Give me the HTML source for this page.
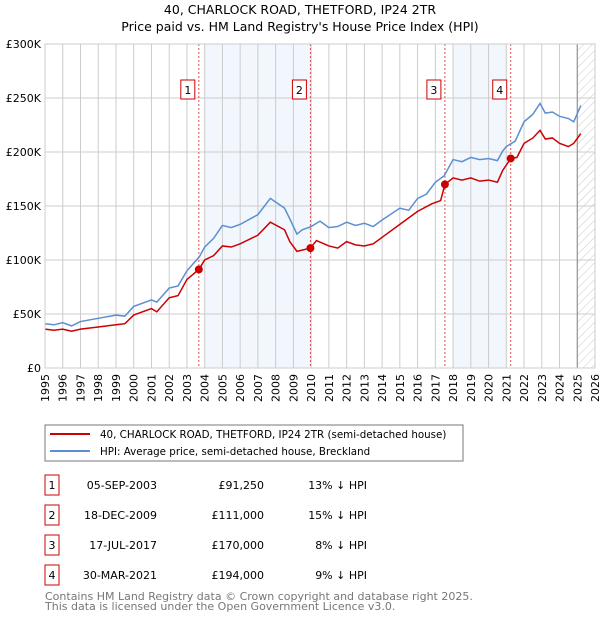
<!DOCTYPE html>
<html><head><meta charset="utf-8"><style>
body{margin:0;background:#fff;font-family:"DejaVu Sans","Liberation Sans",sans-serif;}
svg text{font-family:"DejaVu Sans","Liberation Sans",sans-serif;}
</style></head><body>
<svg id="c" width="600" height="620" viewBox="0 0 600 620" xmlns="http://www.w3.org/2000/svg">
<defs><pattern id="hatch" width="6" height="6" patternUnits="userSpaceOnUse" patternTransform="rotate(45)"><line x1="0" y1="0" x2="0" y2="6" stroke="#bbb" stroke-width="0.8"/></pattern></defs>
<text x="300" y="14" text-anchor="middle" font-size="12.5" fill="#000">40, CHARLOCK ROAD, THETFORD, IP24 2TR</text>
<text x="300" y="31" text-anchor="middle" font-size="12.5" fill="#000">Price paid vs. HM Land Registry's House Price Index (HPI)</text>
<g id="plot"></g>
<rect x="45" y="425" width="418" height="36" fill="#fff" stroke="#777"/>
<line x1="50" y1="434" x2="90" y2="434" stroke="#cc0000" stroke-width="2"/>
<text x="100" y="438" font-size="10.3">40, CHARLOCK ROAD, THETFORD, IP24 2TR (semi-detached house)</text>
<line x1="50" y1="451" x2="90" y2="451" stroke="#5b8fd0" stroke-width="2"/>
<text x="100" y="455" font-size="10.3">HPI: Average price, semi-detached house, Breckland</text>
<g id="table" font-size="11"></g>
<text x="45" y="600" font-size="11" fill="#777">Contains HM Land Registry data © Crown copyright and database right 2025.</text>
<text x="45" y="610" font-size="11" fill="#777">This data is licensed under the Open Government Licence v3.0.</text>
</svg>
<script>
const years=[1995,1996,1997,1998,1999,2000,2001,2002,2003,2004,2005,2006,2007,2008,2009,2010,2011,2012,2013,2014,2015,2016,2017,2018,2019,2020,2021,2022,2023,2024,2025,2026];
const yTicks=[0,50,100,150,200,250,300];
const yTickLabels=["£0","£50K","£100K","£150K","£200K","£250K","£300K"];
const hpiT=[1995,1995.5,1996,1996.5,1997,1998,1999,1999.5,2000,2001,2001.3,2002,2002.5,2003,2003.7,2004,2004.5,2005,2005.5,2006,2007,2007.7,2008.5,2008.8,2009.2,2009.5,2010,2010.5,2011,2011.5,2012,2012.5,2013,2013.5,2014,2015,2015.5,2016,2016.5,2017,2017.5,2018,2018.5,2019,2019.5,2020,2020.5,2020.8,2021,2021.5,2022,2022.5,2022.9,2023.2,2023.6,2024,2024.5,2024.8,2025.2];
const hpiV=[41,40,42,39,43,46,49,48,57,63,61,74,76,90,103,112,120,132,130,133,142,157,148,138,124,128,131,136,130,131,135,132,134,131,137,148,146,157,161,172,178,193,191,195,193,194,192,201,205,210,228,235,245,236,237,233,231,228,243];
const paidT=[1995,1995.5,1996,1996.5,1997,1998,1999,1999.5,2000,2001,2001.3,2002,2002.5,2003,2003.67,2004,2004.5,2005,2005.5,2006,2007,2007.7,2008.5,2008.8,2009.2,2009.96,2010.3,2011,2011.5,2012,2012.5,2013,2013.5,2014,2015,2016,2016.8,2017.3,2017.54,2018,2018.5,2019,2019.5,2020,2020.5,2020.8,2021.25,2021.6,2022,2022.5,2022.9,2023.2,2023.6,2024,2024.5,2024.8,2025.2];
const paidV=[36,35,36,34,36,38,40,41,49,55,52,65,67,82,91.25,100,104,113,112,115,123,135,128,117,108,111,118,113,111,117,114,113,115,121,133,145,152,155,170,176,174,176,173,174,172,183,194,195,208,213,220,212,213,208,205,208,217];
const saleT=[2003.67,2009.96,2017.54,2021.25];
const saleV=[91.25,111,170,194];
const saleLabels=["1","2","3","4"];
const saleDates=["05-SEP-2003","18-DEC-2009","17-JUL-2017","30-MAR-2021"];
const salePrices=["£91,250","£111,000","£170,000","£194,000"];
const saleDiffs=["13% ↓ HPI","15% ↓ HPI","8% ↓ HPI","9% ↓ HPI"];
const shadeRanges=[[2004,2010],[2018,2021]];

const NS="http://www.w3.org/2000/svg";
const X0=45,X1=595,Y0=368,Y1=44;
const xs=t=>X0+(t-1995)/(2026-1995)*(X1-X0);
const ys=v=>Y0-v/300*(Y0-Y1);
function mk(tag,attrs,parent,txt){const e=document.createElementNS(NS,tag);for(const k in attrs)e.setAttribute(k,attrs[k]);if(txt!==undefined)e.textContent=txt;parent.appendChild(e);return e;}
const g=document.getElementById('plot');
shadeRanges.forEach(r=>{const e=mk('rect',{x:xs(r[0]),y:Y1,width:xs(r[1])-xs(r[0]),height:Y0-Y1,fill:'#eef3fc',opacity:0.75},g);

});
const h=mk('rect',{x:xs(2025),y:Y1,width:X1-xs(2025),height:Y0-Y1,fill:'url(#hatch)'},g);


years.forEach(y=>{mk('line',{x1:xs(y),x2:xs(y),y1:Y1,y2:Y0,stroke:'#ccc','stroke-width':1},g);
const t=mk('text',{x:0,y:0,'font-size':11,'text-anchor':'end',transform:`translate(${xs(y)+4},${Y0+6}) rotate(-90)`},g,String(y));

});
yTicks.forEach((v,i)=>{mk('line',{x1:X0,x2:X1,y1:ys(v),y2:ys(v),stroke:'#ccc','stroke-width':1},g);
const t=mk('text',{x:X0-4,y:ys(v)+4,'font-size':11,'text-anchor':'end'},g,yTickLabels[i]);

});
mk('line',{x1:xs(2025),x2:xs(2025),y1:Y1,y2:Y0,stroke:'#888','stroke-width':1},g);
saleT.forEach(t=>mk('line',{x1:xs(t),x2:xs(t),y1:Y1,y2:Y0,stroke:'#e05050','stroke-width':1,'stroke-dasharray':'2,2'},g));
const hp=mk('polyline',{points:hpiT.map((t,i)=>xs(t)+','+ys(hpiV[i])).join(' '),fill:'none',stroke:'#5b8fd0','stroke-width':1.5},g);


const pp=mk('polyline',{points:paidT.map((t,i)=>xs(t)+','+ys(paidV[i])).join(' '),fill:'none',stroke:'#cc0000','stroke-width':1.5},g);


saleT.forEach((t,i)=>{const c=mk('circle',{cx:xs(t),cy:ys(saleV[i]),r:4,fill:'#cc0000'},g);


const r=mk('rect',{x:xs(t)-18,y:80,width:14,height:19,fill:'#fff',stroke:'#cc0000'},g);


mk('text',{x:xs(t)-11,y:94,'font-size':11,'text-anchor':'middle'},g,saleLabels[i]);});
mk('rect',{x:X0,y:Y1,width:X1-X0,height:Y0-Y1,fill:'none',stroke:'#ccc'},g);
const tb=document.getElementById('table');
saleLabels.forEach((l,i)=>{const y=475+i*30;
const r=mk('rect',{x:45,y:y,width:14,height:20,fill:'#fff',stroke:'#cc0000'},tb);


mk('text',{x:52,y:y+14,'text-anchor':'middle'},tb,l);
const d=mk('text',{x:157,y:y+14,'text-anchor':'end'},tb,saleDates[i]);


const p=mk('text',{x:264,y:y+14,'text-anchor':'end'},tb,salePrices[i]);


const f=mk('text',{x:367,y:y+14,'text-anchor':'end'},tb,saleDiffs[i]);

});
</script>
</body></html>
